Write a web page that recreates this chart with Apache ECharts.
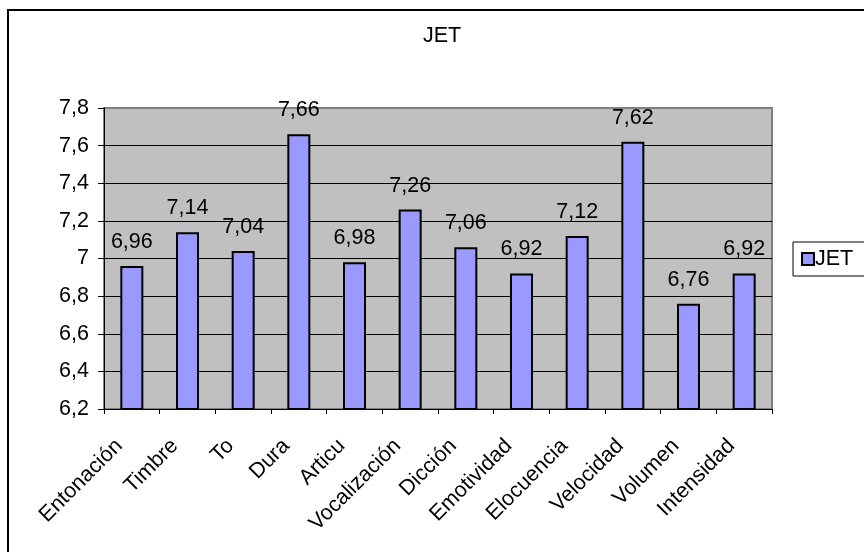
<!DOCTYPE html>
<html>
<head>
<meta charset="utf-8">
<script src="https://cdn.jsdelivr.net/npm/echarts@6/dist/echarts.min.js"></script>
<style>
html,body{margin:0;padding:0;background:#fff;}
#chart{width:864px;height:552px;}
</style>
</head>
<body>
<div id="chart"></div>
<script>
const categories = ['Entonación','Timbre','Tono','Duración','Articulación','Vocalización','Dicción','Emotividad','Elocuencia','Velocidad','Volumen','Intensidad'];
const tickLabels = ['Entonación','Timbre','To','Dura','Articu','Vocalización','Dicción','Emotividad','Elocuencia','Velocidad','Volumen','Intensidad'];
const seriesName = 'JET';
const jetValues = [6.96, 7.14, 7.04, 7.66, 6.98, 7.26, 7.06, 6.92, 7.12, 7.62, 6.76, 6.92];
const yMin = 6.2, yMax = 7.8, yStep = 0.2;

const fmt = v => String(Math.round(v*100)/100).replace('.', ',');
const FONT = 'Liberation Sans, Arial, sans-serif';
const FS = 21.5;

const chart = echarts.init(document.getElementById('chart'), null, {renderer:'canvas'});
chart.setOption({
  animation:false,
  backgroundColor:'#fff',
  textStyle:{fontFamily:FONT},
  graphic:[
    {type:'rect', shape:{x:8, y:10, width:900, height:600}, style:{fill:'none', stroke:'#000', lineWidth:2}, z:100},
    {type:'text', x:442, y:25, style:{text:'JET', fill:'#000', font:FS + 'px ' + FONT, textAlign:'center', textVerticalAlign:'top'}}
  ],
  legend:{
    data:[seriesName],
    left:793, top:242,
    orient:'vertical',
    padding:[6,30,6,8],
    borderColor:'#000', borderWidth:1,
    backgroundColor:'#fff',
    icon:'rect', itemWidth:12, itemHeight:12, itemGap:4,
    textStyle:{fontSize:FS, color:'#000', fontFamily:FONT, padding:[0,0,0,-4]}
  },
  grid:{left:104, right:92, top:108, bottom:143, show:true, backgroundColor:'#c0c0c0', borderColor:'#808080', borderWidth:2},
  xAxis:{
    type:'category', data:categories,
    axisLine:{lineStyle:{color:'#000', width:1}},
    axisTick:{show:true, length:5, lineStyle:{color:'#000'}},
    axisLabel:{rotate:45, interval:0, fontSize:FS, color:'#000', margin:21,
      formatter:(v, i) => tickLabels[i] + '\u00a0\u00a0\u00a0'}
  },
  yAxis:{
    type:'value', min:yMin, max:yMax, interval:yStep,
    axisLine:{show:true, lineStyle:{color:'#000', width:1}},
    axisTick:{show:true, length:6, lineStyle:{color:'#000'}},
    axisLabel:{fontSize:FS, color:'#000', margin:15, formatter:fmt},
    splitLine:{show:true, lineStyle:{color:['#000','#000','#000','#000','#000','#000','#000','#000','#808080'], width:1}}
  },
  series:[{
    name:seriesName, type:'bar', data:jetValues, barWidth:23,
    itemStyle:{color:'#9999ff', borderColor:'#000', borderWidth:2},
    label:{show:true, position:'top', distance:13, fontSize:FS, color:'#000', formatter:p => fmt(p.value)}
  }]
});
</script>
</body>
</html>
